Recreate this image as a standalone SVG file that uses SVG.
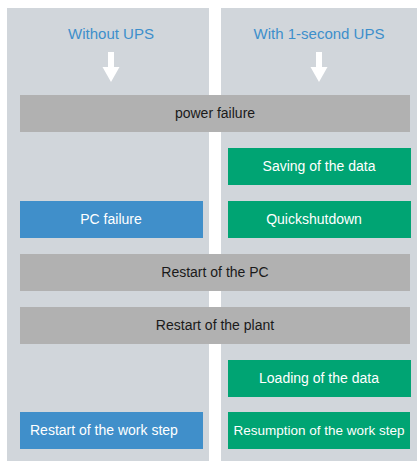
<svg xmlns="http://www.w3.org/2000/svg" width="417" height="461" viewBox="0 0 417 461">
<style>
.panel{fill:#d1d6db}
.gray{fill:#b1b1b1}
.green{fill:#00a473}
.blue{fill:#408fca}
text{font-family:"Liberation Sans",Arial,sans-serif;font-size:14px}
.dark{fill:#1a1a1a;text-anchor:middle}
.light{fill:#ffffff;text-anchor:middle}
.head{fill:#3d8fcb;text-anchor:middle;font-size:15px}
.arrow{fill:#ffffff}
</style>
<rect fill="#ffffff" x="0" y="0" width="417" height="461"/>
<g id="lane-without">
<rect class="panel" x="7" y="8" width="202" height="453"/>
<text class="head" x="111" y="39">Without UPS</text>
</g>
<g id="lane-with">
<rect class="panel" x="221" y="8" width="196" height="453"/>
<text class="head" x="319" y="39">With 1-second UPS</text>
</g>
<g id="connectors">
<path class="arrow" d="M108 52 H114 V67 H119.5 L111 82 L102.5 67 H108 Z"/>
<path class="arrow" d="M316 52 H322 V67 H327.5 L319 82 L310.5 67 H316 Z"/>
</g>
<g id="power-failure">
<rect class="gray" x="20" y="95" width="390" height="37"/>
<text class="dark" x="215" y="118">power failure</text>
</g>
<g id="saving-data">
<rect class="green" x="228" y="148" width="183" height="37"/>
<text class="light" x="319" y="171">Saving of the data</text>
</g>
<g id="pc-failure">
<rect class="blue" x="20" y="201" width="183" height="37"/>
<text class="light" x="111" y="224">PC failure</text>
</g>
<g id="quickshutdown">
<rect class="green" x="228" y="201" width="183" height="37"/>
<text class="light" x="314" y="224">Quickshutdown</text>
</g>
<g id="restart-pc">
<rect class="gray" x="20" y="254" width="390" height="37"/>
<text class="dark" x="215" y="277">Restart of the PC</text>
</g>
<g id="restart-plant">
<rect class="gray" x="20" y="307" width="390" height="37"/>
<text class="dark" x="215" y="330">Restart of the plant</text>
</g>
<g id="loading-data">
<rect class="green" x="228" y="360" width="183" height="37"/>
<text class="light" x="319" y="383">Loading of the data</text>
</g>
<g id="restart-work-step">
<rect class="blue" x="20" y="412" width="183" height="37"/>
<text class="light" x="30" y="435" style="text-anchor:start">Restart of the work step</text>
</g>
<g id="resumption-work-step">
<rect class="green" x="228" y="412" width="182" height="37"/>
<text class="light" x="319" y="435" style="font-size:13.5px">Resumption of the work step</text>
</g>
</svg>
